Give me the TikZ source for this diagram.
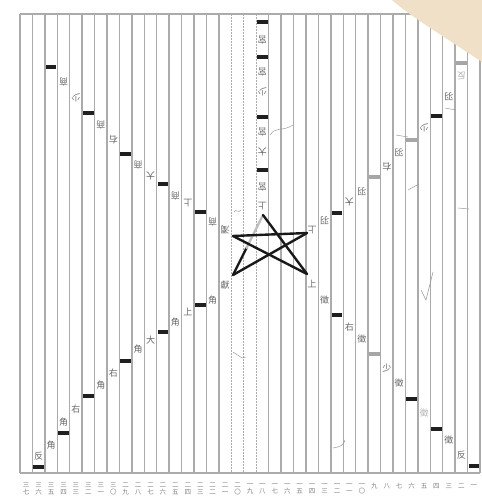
\documentclass[tikz,border=0pt]{standalone}
\usepackage{fontspec}
\newfontfamily\cjk{Noto Sans CJK SC}
\begin{document}
\begin{tikzpicture}[x=1pt,y=-1pt,
  declare function={sx(\n)=480-12.432*(\n-0.5);},
  sl/.style={draw=black!33,line width=1.4pt},
  sld/.style={draw=black!33,line width=1.4pt,dash pattern=on 2pt off 1pt},
  mk/.style={rectangle,fill=black!88,minimum width=10.5pt,minimum height=4.5pt,inner sep=0pt},
  gmk/.style={rectangle,fill=black!35,minimum width=10.5pt,minimum height=4.5pt,inner sep=0pt},
  ch/.style={inner sep=0pt,text=black!60,font=\cjk\fontsize{9}{9}\selectfont},
  chr/.style={ch,rotate=180},
  chg/.style={ch,text=black!30},
  num/.style={inner sep=0pt,text=black!50,font=\cjk\fontsize{6.5}{7}\selectfont,align=center},
  crack/.style={draw=black!40,line width=0.5pt},
  stb/.style={draw=black!90,line width=2.4pt,line cap=round},
  stg/.style={draw=black!25,line width=2.4pt,line cap=round}]
\useasboundingbox (0,0) rectangle (482,499);
% frame
\draw[sl] (20,14) -- (480,14);
\draw[sl] (20,473) -- (480,473);
\foreach \k in {0,...,37}{
  \ifnum\k=17 \draw[sld] ({20+12.432*\k},14) -- ({20+12.432*\k},473);
  \else\ifnum\k=18 \draw[sld] ({20+12.432*\k},14) -- ({20+12.432*\k},473);
  \else\ifnum\k=19 \draw[sld] ({20+12.432*\k},14) -- ({20+12.432*\k},473);
  \else \draw[sl] ({20+12.432*\k},14) -- ({20+12.432*\k},473);
  \fi\fi\fi}
% slip numbers
\foreach \n/\t in {1/一,2/二,3/三,4/四,5/五,6/六,7/七,8/八,9/九}
  \node[num] (n\n) at ({sx(\n)},486) {\t};
\foreach \n/\t in {10/一\\〇,11/一\\一,12/一\\二,13/一\\三,14/一\\四,15/一\\五,16/一\\六,17/一\\七,18/一\\八,19/一\\九,
  20/二\\〇,21/二\\一,22/二\\二,23/二\\三,24/二\\四,25/二\\五,26/二\\六,27/二\\七,28/二\\八,29/二\\九,
  30/三\\〇,31/三\\一,32/三\\二,33/三\\三,34/三\\四,35/三\\五,36/三\\六,37/三\\七}
  \node[num] (n\n) at ({sx(\n)},489) {\t};
% top column (slip 18)
\node[mk] (t1) at ({sx(18)},22) {};
\node[chr] (t2) at ({sx(18)},40) {宮};
\node[mk] (t3) at ({sx(18)},57) {};
\node[chr] (t4) at ({sx(18)},72) {宮};
\node[chr] (t5) at ({sx(18)},92) {少};
\node[mk] (t6) at ({sx(18)},117) {};
\node[chr] (t7) at ({sx(18)},132) {宮};
\node[chr] (t8) at ({sx(18)},152) {大};
\node[mk] (t9) at ({sx(18)},170) {};
\node[chr] (t10) at ({sx(18)},187) {宮};
\node[chr] (t11) at ({sx(18)},206) {上};
% upper-left arm
\node[mk] (a35) at ({sx(35)},67) {};
\node[chr] (a34) at ({sx(34)},82) {商};
\node[chr] (a33) at ({sx(33)},98) {少};
\node[mk] (a32) at ({sx(32)},113) {};
\node[chr] (a31) at ({sx(31)},125) {商};
\node[chr] (a30) at ({sx(30)},140) {右};
\node[mk] (a29) at ({sx(29)},154) {};
\node[chr] (a28) at ({sx(28)},165) {商};
\node[chr] (a27) at ({sx(27)},176) {大};
\node[mk] (a26) at ({sx(26)},184) {};
\node[chr] (a25) at ({sx(25)},196) {商};
\node[chr] (a24) at ({sx(24)},203) {上};
\node[mk] (a23) at ({sx(23)},212) {};
\node[chr] (a22) at ({sx(22)},222) {商};
\node[chr] (a21) at ({sx(21)},230) {濁};
% lower-left arm
\node[mk] (b36) at ({sx(36)},467) {};
\node[ch] (b36c) at ({sx(36)},456) {反};
\node[ch] (b35) at ({sx(35)},445) {角};
\node[mk] (b34) at ({sx(34)},433) {};
\node[ch] (b34c) at ({sx(34)},422) {角};
\node[ch] (b33) at ({sx(33)},409) {右};
\node[mk] (b32) at ({sx(32)},396) {};
\node[ch] (b31) at ({sx(31)},385) {角};
\node[ch] (b30) at ({sx(30)},373) {右};
\node[mk] (b29) at ({sx(29)},361) {};
\node[ch] (b28) at ({sx(28)},349) {角};
\node[ch] (b27) at ({sx(27)},340) {大};
\node[mk] (b26) at ({sx(26)},332) {};
\node[ch] (b25) at ({sx(25)},322) {角};
\node[ch] (b24) at ({sx(24)},312) {上};
\node[mk] (b23) at ({sx(23)},305) {};
\node[ch] (b22) at ({sx(22)},300) {角};
\node[ch] (b21) at ({sx(21)},285) {獻};
% upper-right arm
\node[chr] (c14) at ({sx(14)},230) {上};
\node[chr] (c13) at ({sx(13)},221) {羽};
\node[mk] (c12) at ({sx(12)},213) {};
\node[chr] (c11) at ({sx(11)},202) {大};
\node[chr] (c10) at ({sx(10)},192) {羽};
\node[gmk] (c9) at ({sx(9)},177) {};
\node[chr] (c8) at ({sx(8)},167) {右};
\node[chr] (c7) at ({sx(7)},153) {羽};
\node[gmk] (c6) at ({sx(6)},140) {};
\node[chr] (c5) at ({sx(5)},128) {少};
\node[mk] (c4) at ({sx(4)},116) {};
\node[chr] (c3) at ({sx(3)},97) {羽};
\node[chr,text=black!30] (c2) at ({sx(2)},76) {反};
\node[gmk] (c2m) at ({sx(2)},63) {};
% lower-right arm
\node[ch] (d14) at ({sx(14)},284) {上};
\node[ch] (d13) at ({sx(13)},300) {徵};
\node[mk] (d12) at ({sx(12)},315) {};
\node[ch] (d11) at ({sx(11)},327) {右};
\node[ch] (d10) at ({sx(10)},339) {徵};
\node[gmk] (d9) at ({sx(9)},354) {};
\node[ch] (d8) at ({sx(8)},368) {少};
\node[ch] (d7) at ({sx(7)},383) {徵};
\node[mk] (d6) at ({sx(6)},399) {};
\node[chg] (d5) at ({sx(5)},413) {徵};
\node[mk] (d4) at ({sx(4)},429) {};
\node[ch] (d3) at ({sx(3)},440) {徵};
\node[ch] (d2) at ({sx(2)},455) {反};
\node[mk] (d1) at ({sx(1)},466) {};
% star
\coordinate (sT) at (263,215);
\coordinate (sUL) at (233,236);
\coordinate (sUR) at (307,233);
\coordinate (sLL) at (233,275);
\coordinate (sLR) at (307,274);
\coordinate (sG) at (246.5,248);
\draw[stb] (sG) -- (sLL);
\draw[stg] (sT) -- (sG);
\draw[stb] (sT) -- (sLR);
\draw[stb] (sUL) -- (sUR);
\draw[stb] (sUL) -- (sLR);
\draw[stb] (sUR) -- (sLL);
% cracks
\draw[crack] (234,212) .. controls (236,208) and (238,214) .. (241,210);
\draw[crack] (270,135) .. controls (276,126) and (282,132) .. (293,125);
\draw[crack] (396,135) -- (408,137);
\draw[crack] (445,108) -- (456,110);
\draw[crack] (408,190) -- (419,184);
\draw[crack] (458,208) -- (469,209);
\draw[crack] (421,290) -- (426,300) -- (433,272);
\draw[crack] (233,352) -- (242,358) -- (246,357);
\draw[crack] (333,448) .. controls (340,447) and (344,445) .. (345,440);
% parchment corner
\fill[color={rgb,255:red,240;green,224;blue,200}] (392,0) .. controls (410,16) and (440,34) .. (482,62) -- (482,0) -- cycle;
\end{tikzpicture}
\end{document}
